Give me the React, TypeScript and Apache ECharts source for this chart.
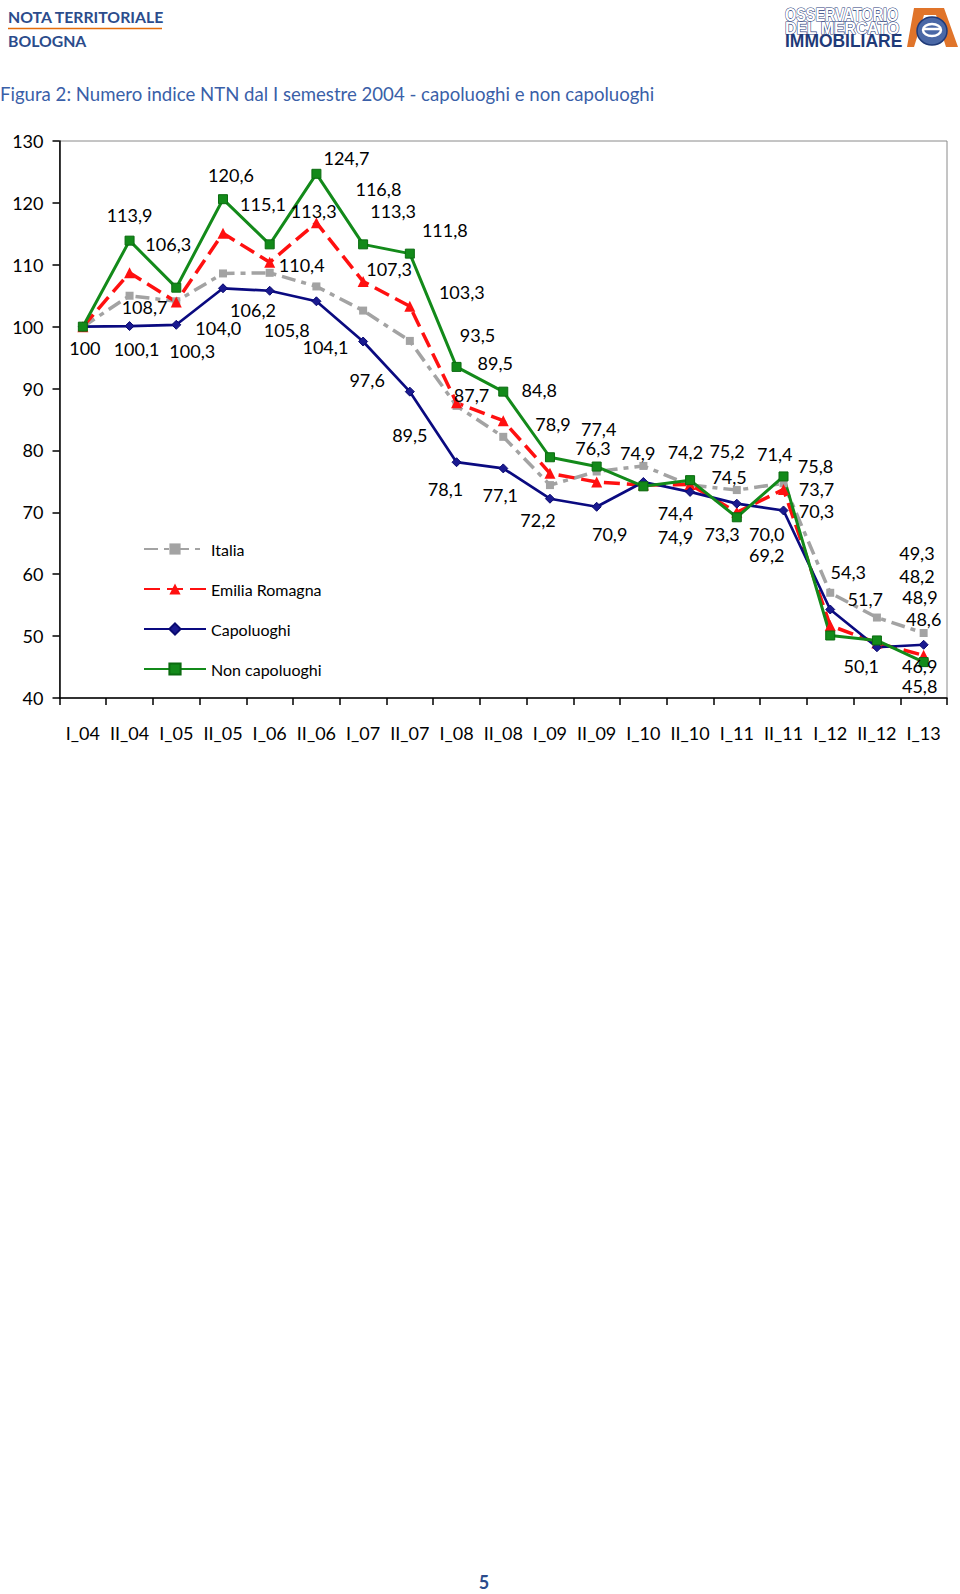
import React, { useEffect, useRef } from 'react';
import * as echarts from 'echarts';

const categories = ['I_04', 'II_04', 'I_05', 'II_05', 'I_06', 'II_06', 'I_07', 'II_07', 'I_08', 'II_08', 'I_09', 'II_09', 'I_10', 'II_10', 'I_11', 'II_11', 'I_12', 'II_12', 'I_13'];

const italia = [100, 105.0, 104.1, 108.6, 108.7, 106.5, 102.6, 97.7, 87.2, 82.2, 74.4, 76.6, 77.5, 74.4, 73.6, 74.7, 57.0, 53.0, 50.5];
const emiliaRomagna = [100, 108.7, 104.0, 115.1, 110.4, 116.8, 107.3, 103.3, 87.7, 84.8, 76.3, 74.9, 74.4, 74.5, 70.0, 73.7, 51.7, 48.9, 46.9];
const capoluoghi = [100, 100.1, 100.3, 106.2, 105.8, 104.1, 97.6, 89.5, 78.1, 77.1, 72.2, 70.9, 74.9, 73.3, 71.4, 70.3, 54.3, 48.2, 48.6];
const nonCapoluoghi = [100, 113.9, 106.3, 120.6, 113.3, 124.7, 113.3, 111.8, 93.5, 89.5, 78.9, 77.4, 74.2, 75.2, 69.2, 75.8, 50.1, 49.3, 45.8];

const seriesNames = ['Italia', 'Emilia Romagna', 'Capoluoghi', 'Non capoluoghi'];

const yMin = 40;
const yMax = 130;
const yStep = 10;

// label placement (pixel offsets of each value label from its point), null = no label
const emiliaLabelOffsets: (number[] | null)[] = [null, [15, 34], [42, 26], [40, -29], [32, 3], [62, -34], [26, -12], [52, -14], [15, -8], [36, -31], [43, -25], [41, -29], [32, 28], [39, -7], [30, 22], [33, 0], [35, -27], [43, -46], [-4, 11]];
const capoluoghiLabelOffsets: (number[] | null)[] = [[2, 21], [7, 23], [16, 26], [30, 22], [17, 39], [9, 46], [4, 38], [0, 43], [-11, 27], [-3, 27], [-12, 21], [13, 27], [32, 55], [32, 42], [38, -50], [33, 1], [18, -37], [40, -71], [0, -26]];
const nonCapLabelOffsets: (number[] | null)[] = [null, [0, -26], [-8, -44], [8, -24], [44, -33], [30, -16], [30, -33], [35, -24], [21, -32], [-8, -29], [3, -33], [2, -38], [42, -34], [37, -29], [30, 38], [32, -10], [31, 31], [40, -87], [-4, 24]];

const fmt = (v: number) => v.toFixed(1).replace('.', ',');

function buildData(values: number[], offsets: (number[] | null)[] | null) {
  return values.map((v, i) => {
    const off = offsets ? offsets[i] : null;
    if (!off) return { value: v, label: { show: false } };
    return { value: v, label: { show: true, offset: off, formatter: i === 0 ? String(Math.round(v)) : fmt(v) } };
  });
}

const FONT = 'Lato';

export default function App() {
  const ref = useRef<HTMLDivElement>(null);

  useEffect(() => {
    document.body.style.margin = '0';
    if (!ref.current) return;
    const chart = echarts.init(ref.current, null, { renderer: 'svg' });

    const labelBase = {
      show: true,
      position: 'inside',
      fontFamily: FONT,
      fontSize: 18,
      color: '#000',
    };

    const txt = (extra: any) => ({ textAlign: 'left', textVerticalAlign: 'middle', align: 'left', verticalAlign: 'middle', ...extra });

    const option: any = {
      animation: false,
      backgroundColor: '#ffffff',
      textStyle: { fontFamily: FONT },
      grid: {
        left: 59.5,
        right: 13,
        top: 141,
        bottom: 896,
        show: true,
        borderColor: '#8a8a8a',
        borderWidth: 1,
        backgroundColor: 'transparent',
      },
      legend: {
        data: seriesNames,
        orient: 'vertical',
        left: 138,
        top: 536,
        itemWidth: 62,
        itemHeight: 14,
        itemGap: 24,
        textStyle: { fontFamily: FONT, fontSize: 16, color: '#000' },
        selectedMode: false,
      },
      xAxis: {
        type: 'category',
        data: categories,
        boundaryGap: true,
        axisLine: { show: true, lineStyle: { color: '#000', width: 1.5 } },
        axisTick: { show: true, length: 7, lineStyle: { color: '#000', width: 1.5 } },
        axisLabel: { interval: 0, fontFamily: FONT, fontSize: 18, color: '#000', margin: 26 },
        splitLine: { show: false },
      },
      yAxis: {
        type: 'value',
        min: yMin,
        max: yMax,
        interval: yStep,
        axisLine: { show: true, lineStyle: { color: '#000', width: 1.5 } },
        axisTick: { show: true, length: 7, lineStyle: { color: '#000', width: 1.5 } },
        axisLabel: { fontFamily: FONT, fontSize: 18, color: '#000', margin: 16 },
        splitLine: { show: false },
      },
      series: [
        {
          name: seriesNames[0],
          type: 'line',
          data: buildData(italia, null),
          symbol: 'rect',
          symbolSize: 8,
          color: '#a3a3a3',
          itemStyle: { color: '#a3a3a3' },
          lineStyle: { color: '#a3a3a3', width: 3.5, type: [14, 6, 5, 6] },
          label: { ...labelBase, show: false },
          emphasis: { disabled: true },
          silent: true,
        },
        {
          name: seriesNames[1],
          type: 'line',
          data: buildData(emiliaRomagna, emiliaLabelOffsets),
          symbol: 'triangle',
          symbolSize: 11,
          color: '#ff1010',
          itemStyle: { color: '#ff1010' },
          lineStyle: { color: '#ff1010', width: 3.5, type: [16, 7] },
          label: labelBase,
          emphasis: { disabled: true },
          silent: true,
        },
        {
          name: seriesNames[2],
          type: 'line',
          data: buildData(capoluoghi, capoluoghiLabelOffsets),
          symbol: 'diamond',
          symbolSize: 9,
          color: '#0a0a80',
          itemStyle: { color: '#1a1a90', borderColor: '#0a0a70', borderWidth: 1 },
          lineStyle: { color: '#0a0a80', width: 2.7 },
          label: labelBase,
          emphasis: { disabled: true },
          silent: true,
        },
        {
          name: seriesNames[3],
          type: 'line',
          data: buildData(nonCapoluoghi, nonCapLabelOffsets),
          symbol: 'rect',
          symbolSize: 9,
          color: '#138a1a',
          itemStyle: { color: '#138a1a', borderColor: '#0b6b10', borderWidth: 1 },
          lineStyle: { color: '#138a1a', width: 3 },
          label: labelBase,
          emphasis: { disabled: true },
          silent: true,
        },
      ],
      graphic: [
        { type: 'text', x: 8, y: 16, style: txt({ text: 'NOTA TERRITORIALE', font: 'bold 15.8px Lato', fill: '#2b4c8c' }) },
        { type: 'line', shape: { x1: 8, y1: 28.5, x2: 162, y2: 28.5 }, style: { stroke: '#e46c0a', lineWidth: 1.5 } },
        { type: 'text', x: 8, y: 40.5, style: txt({ text: 'BOLOGNA', font: 'bold 15.8px Lato', fill: '#2b4c8c' }) },
        { type: 'text', x: 0, y: 93.5, style: txt({ text: 'Figura 2: Numero indice NTN dal I semestre 2004 - capoluoghi e non capoluoghi', font: '18.6px Lato', fill: '#3a5fa8' }) },
        { type: 'text', x: 785, y: 14.5, scaleX: 0.8, style: txt({ text: 'OSSERVATORIO', font: 'bold 18px "Liberation Sans"', fill: '#ffffff', stroke: '#1f3a78', lineWidth: 1.1 }) },
        { type: 'text', x: 785, y: 28, scaleX: 0.99, style: txt({ text: 'DEL MERCATO', font: 'bold 16px "Liberation Sans"', fill: '#ffffff', stroke: '#1f3a78', lineWidth: 1.1 }) },
        { type: 'text', x: 785, y: 40.5, scaleX: 0.97, style: txt({ text: 'IMMOBILIARE', font: 'bold 18px "Liberation Sans"', fill: '#1f3a78' }) },
        { type: 'polygon', shape: { points: [[914, 8], [944, 8], [958, 47], [946, 47], [936, 15], [924, 15], [914, 47], [907, 47]] }, style: { fill: '#e0742a' } },
        { type: 'ellipse', shape: { cx: 932, cy: 31, rx: 15, ry: 14 }, style: { fill: '#4a68a6', stroke: '#1f3a78', lineWidth: 1.5 } },
        { type: 'ellipse', shape: { cx: 932, cy: 30, rx: 9, ry: 6 }, style: { fill: 'none', stroke: '#ffffff', lineWidth: 2.5 } },
        { type: 'line', shape: { x1: 923, y1: 29, x2: 941, y2: 29 }, style: { stroke: '#ffffff', lineWidth: 2.5 } },
        { type: 'text', x: 484, y: 1582, style: { text: '5', font: 'bold 18px Lato', fill: '#2b4c8c', textAlign: 'center', textVerticalAlign: 'middle', align: 'center', verticalAlign: 'middle' } },
      ],
    };

    chart.setOption(option);
    return () => {
      chart.dispose();
    };
  }, []);

  return <div ref={ref} style={{ width: 960, height: 1594, position: 'absolute', left: 0, top: 0 }} />;
}
